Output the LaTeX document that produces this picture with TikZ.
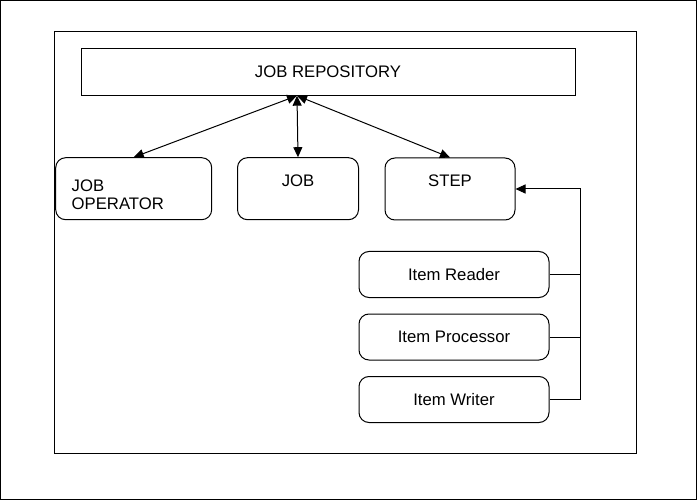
\documentclass[tikz,border=0pt]{standalone}
\usepackage{fontspec}
\setmainfont{Liberation Sans}
\usetikzlibrary{arrows.meta}
\tikzset{flow/line/.style={black, line width=1pt}}
\tikzset{flow/tip/.style={-{Triangle[length=10pt,width=9pt]}}}
\tikzset{flow/both/.style={{Triangle[length=10pt,width=9pt]}-{Triangle[length=10pt,width=9pt]}}}
\tikzset{flow/plain/.style={draw, line width=1pt, inner sep=0pt, font=\fontsize{16.7}{19}\selectfont}}
\tikzset{flow/box/.style={flow/plain, rounded corners=10pt}}
\tikzset{flow/item/.style={flow/box, minimum width=190pt, minimum height=46pt}}

\begin{document}
\begin{tikzpicture}[x=1pt, y=-1pt]
  \useasboundingbox (0,0) rectangle (697,500);
  \draw[flow/line] (0.5,0.5) rectangle (696.5,499.5);
  \draw[flow/line] (54.5,31.5) rectangle (636.5,453.5);

  \node[flow/plain, minimum width=494pt, minimum height=47pt] (repo) at (328,71.7) {JOB REPOSITORY};
  \node[flow/box, minimum width=156pt, minimum height=62pt, text width=124pt, align=left, text height=23pt, font=\fontsize{16.7}{18}\selectfont] (operator) at (133.7,188.7) {JOB\\OPERATOR};
  \node[flow/box, minimum width=121pt, minimum height=62pt, text depth=16pt] (job) at (298,188.7) {JOB};
  \node[flow/box, minimum width=130pt, minimum height=62pt, text depth=16pt] (step) at (450,189) {STEP};
  \node[flow/item] (reader) at (454,274.5) {Item Reader};
  \node[flow/item] (processor) at (454,337) {Item Processor};
  \node[flow/item] (writer) at (454,399.5) {Item Writer};

  \coordinate (hub) at ([xshift=-31pt]repo.south);
  \foreach \b in {operator,job,step} \draw[flow/line, flow/both] (hub) -- (\b.north);
  \coordinate (bus) at ([xshift=65pt]step.east);
  \foreach \b in {reader,processor} \draw[flow/line] (\b.east) -- (\b.east -| bus);
  \draw[flow/line, flow/tip] (writer.east) -| (bus) -- (step.east);
\end{tikzpicture}
\end{document}
